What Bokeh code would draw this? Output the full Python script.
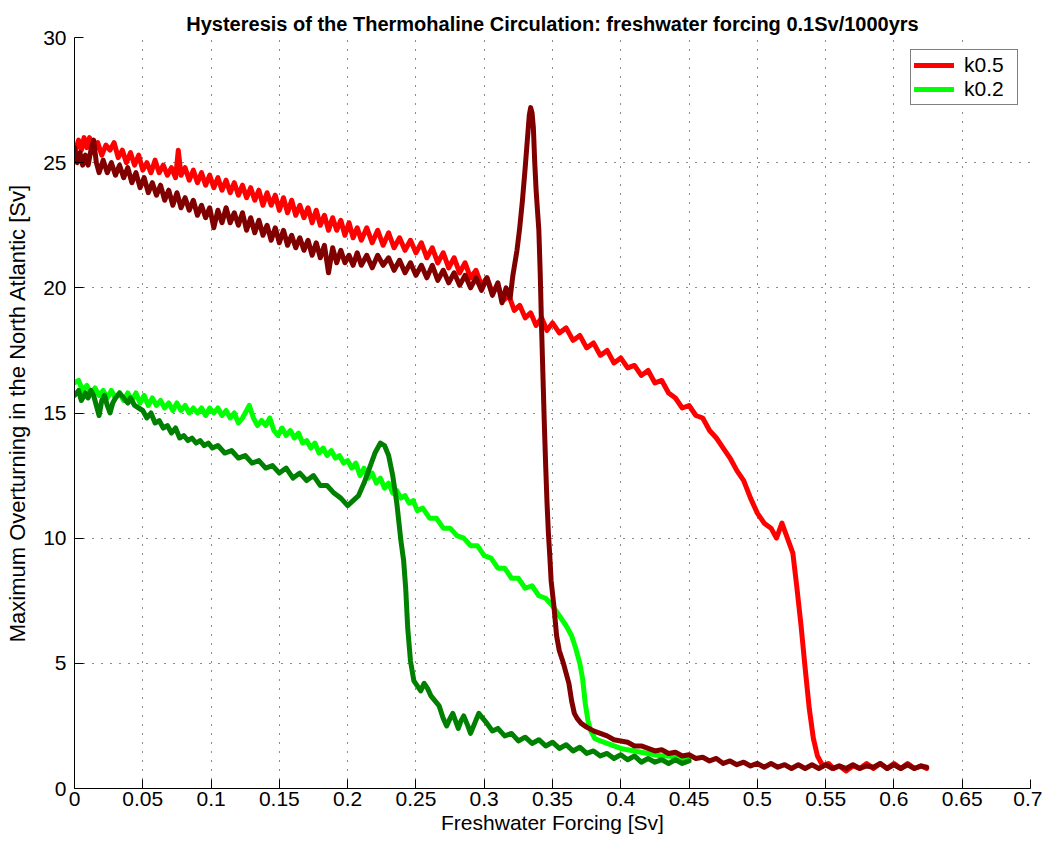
from bokeh.plotting import figure
from bokeh.models import Range1d, FixedTicker, Legend, LegendItem
from bokeh.embed import file_html
from bokeh.resources import INLINE

# ---------------- data ----------------
title_text = "Hysteresis of the Thermohaline Circulation: freshwater forcing 0.1Sv/1000yrs"
x_label = "Freshwater Forcing [Sv]"
y_label = "Maximum Overturning in the North Atlantic [Sv]"

x_ticks = [0, 0.05, 0.1, 0.15, 0.2, 0.25, 0.3, 0.35, 0.4, 0.45, 0.5, 0.55, 0.6, 0.65, 0.7]
x_tick_labels = ["0", "0.05", "0.1", "0.15", "0.2", "0.25", "0.3", "0.35", "0.4", "0.45",
                 "0.5", "0.55", "0.6", "0.65", "0.7"]
y_ticks = [0, 5, 10, 15, 20, 25, 30]
y_tick_labels = ["0", "5", "10", "15", "20", "25", "30"]

# k0.5, increasing forcing (bright red)
k05_up_x = [0.000, 0.003, 0.005, 0.007, 0.009, 0.011, 0.014, 0.017, 0.020, 0.023, 0.026, 0.029,
            0.032, 0.035, 0.038, 0.041, 0.044, 0.047, 0.050, 0.053, 0.056, 0.059, 0.062, 0.065,
            0.068, 0.071, 0.074, 0.076, 0.078, 0.081, 0.084, 0.087, 0.090, 0.093, 0.096, 0.099,
            0.102, 0.105, 0.108, 0.111, 0.114, 0.117, 0.120, 0.123, 0.126, 0.129, 0.132, 0.135,
            0.138, 0.141, 0.144, 0.147, 0.150, 0.153, 0.156, 0.159, 0.162, 0.165, 0.168, 0.171,
            0.174, 0.177, 0.180, 0.183, 0.186, 0.189, 0.192, 0.195, 0.198, 0.201, 0.204, 0.207,
            0.210, 0.214, 0.218, 0.222, 0.226, 0.230, 0.234, 0.238, 0.242, 0.246, 0.250, 0.254,
            0.258, 0.262, 0.266, 0.270, 0.274, 0.278, 0.282, 0.286, 0.290, 0.294, 0.298, 0.302,
            0.306, 0.310, 0.314, 0.318, 0.322, 0.326, 0.330, 0.334, 0.338, 0.342, 0.346, 0.350,
            0.355, 0.360, 0.365, 0.370, 0.375, 0.380, 0.385, 0.390, 0.395, 0.400, 0.405, 0.410,
            0.415, 0.420, 0.425, 0.430, 0.435, 0.440, 0.445, 0.450, 0.455, 0.460, 0.465, 0.470,
            0.475, 0.480, 0.485, 0.490, 0.495, 0.500, 0.505, 0.510, 0.514, 0.518, 0.522, 0.526,
            0.529, 0.532, 0.535, 0.538, 0.541, 0.544, 0.548, 0.552, 0.556, 0.560, 0.565, 0.570,
            0.575, 0.580, 0.585, 0.590, 0.595, 0.600, 0.605, 0.610, 0.615, 0.620, 0.624]
k05_up_y = [25.4, 25.9, 25.5, 26.0, 25.6, 26.0, 25.4, 25.8, 25.3, 25.7, 25.5, 25.8,
            25.2, 25.5, 25.0, 25.4, 24.9, 25.3, 24.7, 25.0, 24.6, 25.1, 24.6, 24.9,
            24.5, 24.8, 24.4, 25.5, 24.5, 24.8, 24.3, 24.7, 24.2, 24.6, 24.1, 24.5,
            24.0, 24.4, 23.9, 24.3, 23.8, 24.2, 23.7, 24.1, 23.6, 24.0, 23.5, 23.9,
            23.3, 23.8, 23.3, 23.7, 23.1, 23.6, 23.0, 23.5, 22.9, 23.3, 22.8, 23.2,
            22.6, 23.1, 22.5, 22.9, 22.3, 22.8, 22.3, 22.7, 22.1, 22.6, 22.0, 22.4,
            21.9, 22.4, 21.8, 22.3, 21.7, 22.2, 21.6, 22.0, 21.5, 21.9, 21.4, 21.8,
            21.2, 21.6, 21.0, 21.4, 20.8, 21.2, 20.6, 21.0, 20.4, 20.7, 20.1, 20.4,
            19.8, 20.1, 19.5, 19.7, 19.1, 19.3, 18.8, 19.0, 18.5, 18.8, 18.3, 18.6,
            18.2, 18.4, 17.9, 18.1, 17.6, 17.8, 17.3, 17.5, 17.0, 17.2, 16.8, 16.9,
            16.5, 16.7, 16.2, 16.3, 15.8, 15.6, 15.2, 15.3, 14.9, 14.8, 14.3, 14.0,
            13.6, 13.2, 12.7, 12.3, 11.6, 11.0, 10.6, 10.4, 10.0, 10.6, 10.0, 9.4,
            8.0, 6.5, 4.8, 3.2, 2.0, 1.3, 0.9, 1.0, 0.8, 0.9, 0.7, 0.9,
            0.8, 1.0, 0.8, 1.0, 0.8, 1.0, 0.8, 1.0, 0.8, 0.9, 0.8]

# k0.5, decreasing forcing (dark red)
k05_down_x = [0.000, 0.002, 0.004, 0.006, 0.008, 0.010, 0.012, 0.014, 0.016, 0.018, 0.021, 0.024,
              0.027, 0.030, 0.033, 0.036, 0.039, 0.042, 0.045, 0.048, 0.051, 0.054, 0.057, 0.060,
              0.063, 0.066, 0.069, 0.072, 0.075, 0.078, 0.081, 0.084, 0.087, 0.090, 0.093, 0.096,
              0.099, 0.102, 0.105, 0.108, 0.111, 0.114, 0.117, 0.120, 0.123, 0.126, 0.129, 0.132,
              0.135, 0.138, 0.141, 0.144, 0.147, 0.150, 0.153, 0.156, 0.159, 0.162, 0.165, 0.168,
              0.171, 0.174, 0.177, 0.180, 0.183, 0.186, 0.189, 0.192, 0.195, 0.198, 0.201, 0.204,
              0.207, 0.210, 0.214, 0.218, 0.222, 0.226, 0.230, 0.234, 0.238, 0.242, 0.246, 0.250,
              0.254, 0.258, 0.262, 0.266, 0.270, 0.274, 0.278, 0.282, 0.286, 0.290, 0.294, 0.298,
              0.302, 0.306, 0.310, 0.313, 0.316, 0.319, 0.321, 0.324, 0.326, 0.328, 0.330, 0.332,
              0.333, 0.334, 0.335, 0.336, 0.337, 0.338, 0.339, 0.340, 0.341, 0.342, 0.343, 0.344,
              0.345, 0.346, 0.347, 0.348, 0.349, 0.351, 0.353, 0.355, 0.358, 0.360, 0.362, 0.364,
              0.366, 0.368, 0.371, 0.375, 0.380, 0.385, 0.390, 0.395, 0.400, 0.405, 0.410, 0.415,
              0.420, 0.425, 0.430, 0.435, 0.440, 0.445, 0.450, 0.455, 0.460, 0.465, 0.470, 0.475,
              0.480, 0.485, 0.490, 0.495, 0.500, 0.505, 0.510, 0.515, 0.520, 0.525, 0.530, 0.535,
              0.540, 0.545, 0.550, 0.555, 0.560, 0.565, 0.570, 0.575, 0.580, 0.585, 0.590, 0.595,
              0.600, 0.605, 0.610, 0.615, 0.620, 0.624]
k05_down_y = [25.6, 25.0, 25.4, 24.9, 25.3, 24.9, 25.5, 25.9, 25.0, 24.6, 25.1, 24.6,
              25.0, 24.5, 24.9, 24.4, 24.8, 24.2, 24.6, 24.0, 24.4, 23.8, 24.2, 23.7,
              24.1, 23.5, 23.9, 23.3, 23.8, 23.2, 23.6, 23.1, 23.5, 22.9, 23.3, 22.8,
              23.2, 22.4, 23.1, 22.6, 23.2, 22.6, 23.0, 22.5, 23.0, 22.3, 22.8, 22.2,
              22.7, 22.1, 22.5, 21.9, 22.4, 21.8, 22.3, 21.7, 22.1, 21.6, 22.0, 21.5,
              21.9, 21.3, 21.8, 21.2, 21.7, 20.6, 21.6, 21.0, 21.5, 21.0, 21.3, 20.9,
              21.4, 20.9, 21.3, 20.8, 21.3, 20.9, 21.2, 20.7, 21.1, 20.6, 21.0, 20.5,
              20.9, 20.4, 20.9, 20.3, 20.7, 20.2, 20.6, 20.1, 20.5, 20.0, 20.4, 19.9,
              20.4, 19.7, 20.2, 19.4, 20.0, 19.6, 20.5, 21.5, 22.4, 23.5, 24.8, 26.2,
              26.9, 27.2, 27.0, 26.4, 25.0, 23.9, 23.1, 22.3, 20.6, 18.4, 16.5, 14.6,
              12.9, 11.4, 10.2, 9.3, 8.3, 7.3, 6.1, 5.5, 5.0, 4.6, 4.2, 3.5,
              3.0, 2.8, 2.6, 2.45, 2.3, 2.2, 2.1, 1.95, 1.9, 1.85, 1.7, 1.7,
              1.6, 1.5, 1.55, 1.4, 1.45, 1.3, 1.35, 1.2, 1.25, 1.1, 1.2, 1.0,
              1.1, 0.95, 1.05, 0.9, 1.0, 0.85, 1.0, 0.85, 0.95, 0.8, 0.95, 0.8,
              0.95, 0.8, 0.95, 0.8, 0.9, 0.8, 0.95, 0.8, 0.9, 0.85, 1.0, 0.8,
              0.95, 0.8, 0.95, 0.8, 0.9, 0.85]

# k0.2, increasing forcing (bright green)
k02_up_x = [0.000, 0.003, 0.006, 0.009, 0.012, 0.015, 0.018, 0.021, 0.024, 0.027, 0.030, 0.033,
            0.036, 0.039, 0.042, 0.045, 0.048, 0.051, 0.054, 0.057, 0.060, 0.063, 0.066, 0.069,
            0.072, 0.075, 0.078, 0.081, 0.084, 0.087, 0.090, 0.093, 0.096, 0.099, 0.102, 0.105,
            0.108, 0.111, 0.114, 0.117, 0.120, 0.123, 0.126, 0.128, 0.131, 0.134, 0.137, 0.140,
            0.143, 0.146, 0.149, 0.152, 0.155, 0.158, 0.161, 0.164, 0.167, 0.170, 0.173, 0.176,
            0.179, 0.182, 0.185, 0.188, 0.191, 0.194, 0.197, 0.200, 0.203, 0.206, 0.209, 0.212,
            0.215, 0.218, 0.221, 0.224, 0.227, 0.230, 0.233, 0.236, 0.239, 0.242, 0.245, 0.248,
            0.251, 0.255, 0.260, 0.265, 0.270, 0.275, 0.280, 0.285, 0.290, 0.295, 0.300, 0.305,
            0.310, 0.315, 0.320, 0.325, 0.330, 0.335, 0.340, 0.345, 0.350, 0.355, 0.360, 0.364,
            0.367, 0.370, 0.372, 0.374, 0.376, 0.378, 0.381, 0.385, 0.390, 0.395, 0.400, 0.405,
            0.410, 0.415, 0.420, 0.425, 0.430, 0.435, 0.440, 0.445, 0.450]
k02_up_y = [16.2, 16.3, 15.9, 16.1, 15.8, 16.0, 15.7, 15.9, 15.6, 15.9, 15.6, 15.8,
            15.5, 15.8, 15.5, 15.8, 15.4, 15.7, 15.3, 15.6, 15.3, 15.5, 15.2, 15.4,
            15.1, 15.4, 15.1, 15.3, 15.0, 15.2, 15.0, 15.2, 14.9, 15.2, 15.0, 15.2,
            14.9, 15.1, 14.8, 15.0, 14.6, 14.8, 15.1, 15.3, 14.8, 14.5, 14.7, 14.5,
            14.8, 14.3, 14.1, 14.4, 14.1, 14.3, 14.0, 14.2, 13.8, 13.9, 13.6, 13.8,
            13.4, 13.6, 13.3, 13.5, 13.2, 13.3, 13.0, 13.1, 12.8, 13.0, 12.5, 12.8,
            12.4, 12.6, 12.2, 12.4, 12.0, 12.2, 11.8, 11.9, 11.6, 11.7, 11.4, 11.5,
            11.1, 11.2, 10.8, 10.8, 10.4, 10.4, 10.1, 10.0, 9.7, 9.7, 9.3, 9.2,
            8.8, 8.8, 8.4, 8.4, 8.0, 8.1, 7.7, 7.6, 7.3, 6.9, 6.5, 6.1,
            5.6, 5.0, 4.4, 3.4, 2.7, 2.3, 2.0, 1.9, 1.8, 1.7, 1.6, 1.55,
            1.5, 1.45, 1.4, 1.35, 1.3, 1.3, 1.25, 1.2, 1.2]

# k0.2, decreasing forcing (dark green)
k02_down_x = [0.000, 0.003, 0.005, 0.008, 0.010, 0.012, 0.014, 0.016, 0.018, 0.020, 0.022, 0.024,
              0.026, 0.028, 0.030, 0.033, 0.036, 0.039, 0.041, 0.044, 0.047, 0.050, 0.053, 0.056,
              0.059, 0.062, 0.065, 0.068, 0.071, 0.074, 0.077, 0.080, 0.083, 0.086, 0.089, 0.092,
              0.095, 0.098, 0.101, 0.105, 0.110, 0.115, 0.120, 0.125, 0.130, 0.135, 0.140, 0.145,
              0.150, 0.155, 0.160, 0.165, 0.170, 0.175, 0.180, 0.185, 0.190, 0.195, 0.200, 0.204,
              0.208, 0.212, 0.216, 0.220, 0.224, 0.227, 0.230, 0.233, 0.236, 0.239, 0.241, 0.2425,
              0.244, 0.246, 0.2485, 0.251, 0.2535, 0.256, 0.2585, 0.261, 0.264, 0.267, 0.270, 0.2725,
              0.275, 0.277, 0.279, 0.281, 0.283, 0.285, 0.288, 0.290, 0.293, 0.296, 0.299, 0.302,
              0.306, 0.310, 0.315, 0.320, 0.325, 0.330, 0.335, 0.340, 0.345, 0.350, 0.355, 0.360,
              0.365, 0.370, 0.375, 0.380, 0.385, 0.390, 0.395, 0.400, 0.405, 0.410, 0.415, 0.420,
              0.425, 0.430, 0.435, 0.440, 0.445, 0.450]
k02_down_y = [15.7, 15.9, 15.5, 15.8, 15.6, 15.9, 15.7, 15.3, 14.9, 15.5, 15.7, 15.3,
              15.0, 15.4, 15.6, 15.8, 15.6, 15.4, 15.6, 15.3, 15.2, 15.1, 14.8, 15.0,
              14.6, 14.7, 14.4, 14.5, 14.2, 14.4, 14.0, 14.1, 13.9, 14.0, 13.8, 13.9,
              13.7, 13.8, 13.6, 13.7, 13.4, 13.5, 13.2, 13.3, 13.0, 13.1, 12.8, 12.9,
              12.6, 12.8, 12.4, 12.6, 12.3, 12.5, 12.1, 12.1, 11.8, 11.6, 11.3, 11.5,
              11.7, 12.2, 12.8, 13.4, 13.8, 13.7, 13.3, 12.5, 11.4, 9.9, 9.1, 8.0,
              6.4, 5.1, 4.3, 4.1, 3.9, 4.2, 4.0, 3.7, 3.5, 3.3, 2.8, 2.5,
              2.8, 3.0, 2.7, 2.4, 2.7, 2.9, 2.5, 2.2, 2.6, 3.0, 2.8, 2.6,
              2.3, 2.4, 2.1, 2.2, 1.9, 2.05, 1.8, 1.95, 1.7, 1.85, 1.6, 1.75,
              1.5, 1.65, 1.4, 1.5, 1.3, 1.4, 1.2, 1.35, 1.15, 1.3, 1.05, 1.2,
              1.05, 1.15, 1.0, 1.15, 1.0, 1.1]

series_labels = ["k0.5", "k0.2"]

# ---------------- figure ----------------
FONT = "Liberation Sans"

p = figure(width=1042, height=850, output_backend="svg", toolbar_location=None,
           x_range=Range1d(0, 0.7), y_range=Range1d(0, 30),
           min_border_left=74, min_border_right=12, min_border_top=37, min_border_bottom=62)

p.title.text = title_text
p.title.align = "center"
p.title.text_font = FONT
p.title.text_font_size = "20px"
p.title.text_font_style = "bold"
p.title.text_color = "black"
p.title.standoff = 6

p.outline_line_color = None
p.background_fill_color = "white"
p.border_fill_color = "white"

for ax in (p.xaxis[0], p.yaxis[0]):
    ax.axis_line_color = "black"
    ax.axis_line_width = 1
    ax.major_tick_in = 9
    ax.major_tick_out = 0
    ax.minor_tick_line_color = None
    ax.major_tick_line_color = "black"
    ax.major_label_text_font = FONT
    ax.major_label_text_font_size = "21px"
    ax.major_label_text_color = "black"
    ax.axis_label_text_font = FONT
    ax.axis_label_text_font_style = "normal"
    ax.axis_label_text_color = "black"

p.xaxis.axis_label_text_font_size = "21px"
p.yaxis.axis_label_text_font_size = "22px"

p.xaxis.ticker = FixedTicker(ticks=x_ticks)
p.yaxis.ticker = FixedTicker(ticks=y_ticks)
p.xaxis.major_label_overrides = {t: l for t, l in zip(x_ticks, x_tick_labels)}
p.yaxis.major_label_overrides = {t: l for t, l in zip(y_ticks, y_tick_labels)}
p.xaxis.axis_label = x_label
p.yaxis.axis_label = y_label
p.xaxis.major_label_standoff = 3
p.xaxis.axis_label_standoff = 2
p.yaxis.major_label_standoff = 8
p.yaxis.axis_label_standoff = 10

for g in (p.xgrid[0], p.ygrid[0]):
    g.grid_line_color = "black"
    g.grid_line_width = 1
    g.grid_line_dash = "1 8"
    g.grid_line_alpha = 0.9

kw = dict(line_width=5, line_join="round", line_cap="round")
r_red = p.line(k05_up_x, k05_up_y, line_color="#FF0000", **kw)
r_lime = p.line(k02_up_x, k02_up_y, line_color="#00FF00", **kw)
r_dred = p.line(k05_down_x, k05_down_y, line_color="#800000", **kw)
r_dgreen = p.line(k02_down_x, k02_down_y, line_color="#008000", **kw)

legend = Legend(items=[LegendItem(label=series_labels[0], renderers=[r_red]),
                       LegendItem(label=series_labels[1], renderers=[r_lime])],
                location="top_right")
legend.border_line_color = "black"
legend.border_line_width = 1
legend.background_fill_color = "white"
legend.background_fill_alpha = 1
legend.label_text_font = FONT
legend.label_text_font_size = "21px"
legend.label_text_color = "black"
legend.glyph_width = 40
legend.glyph_height = 20
legend.label_height = 20
legend.label_width = 50
legend.label_standoff = 10
legend.spacing = 0
legend.padding = 3
legend.margin = 12
legend.border_radius = 0
p.add_layout(legend)

open("out.html", "w").write(file_html(p, INLINE))
